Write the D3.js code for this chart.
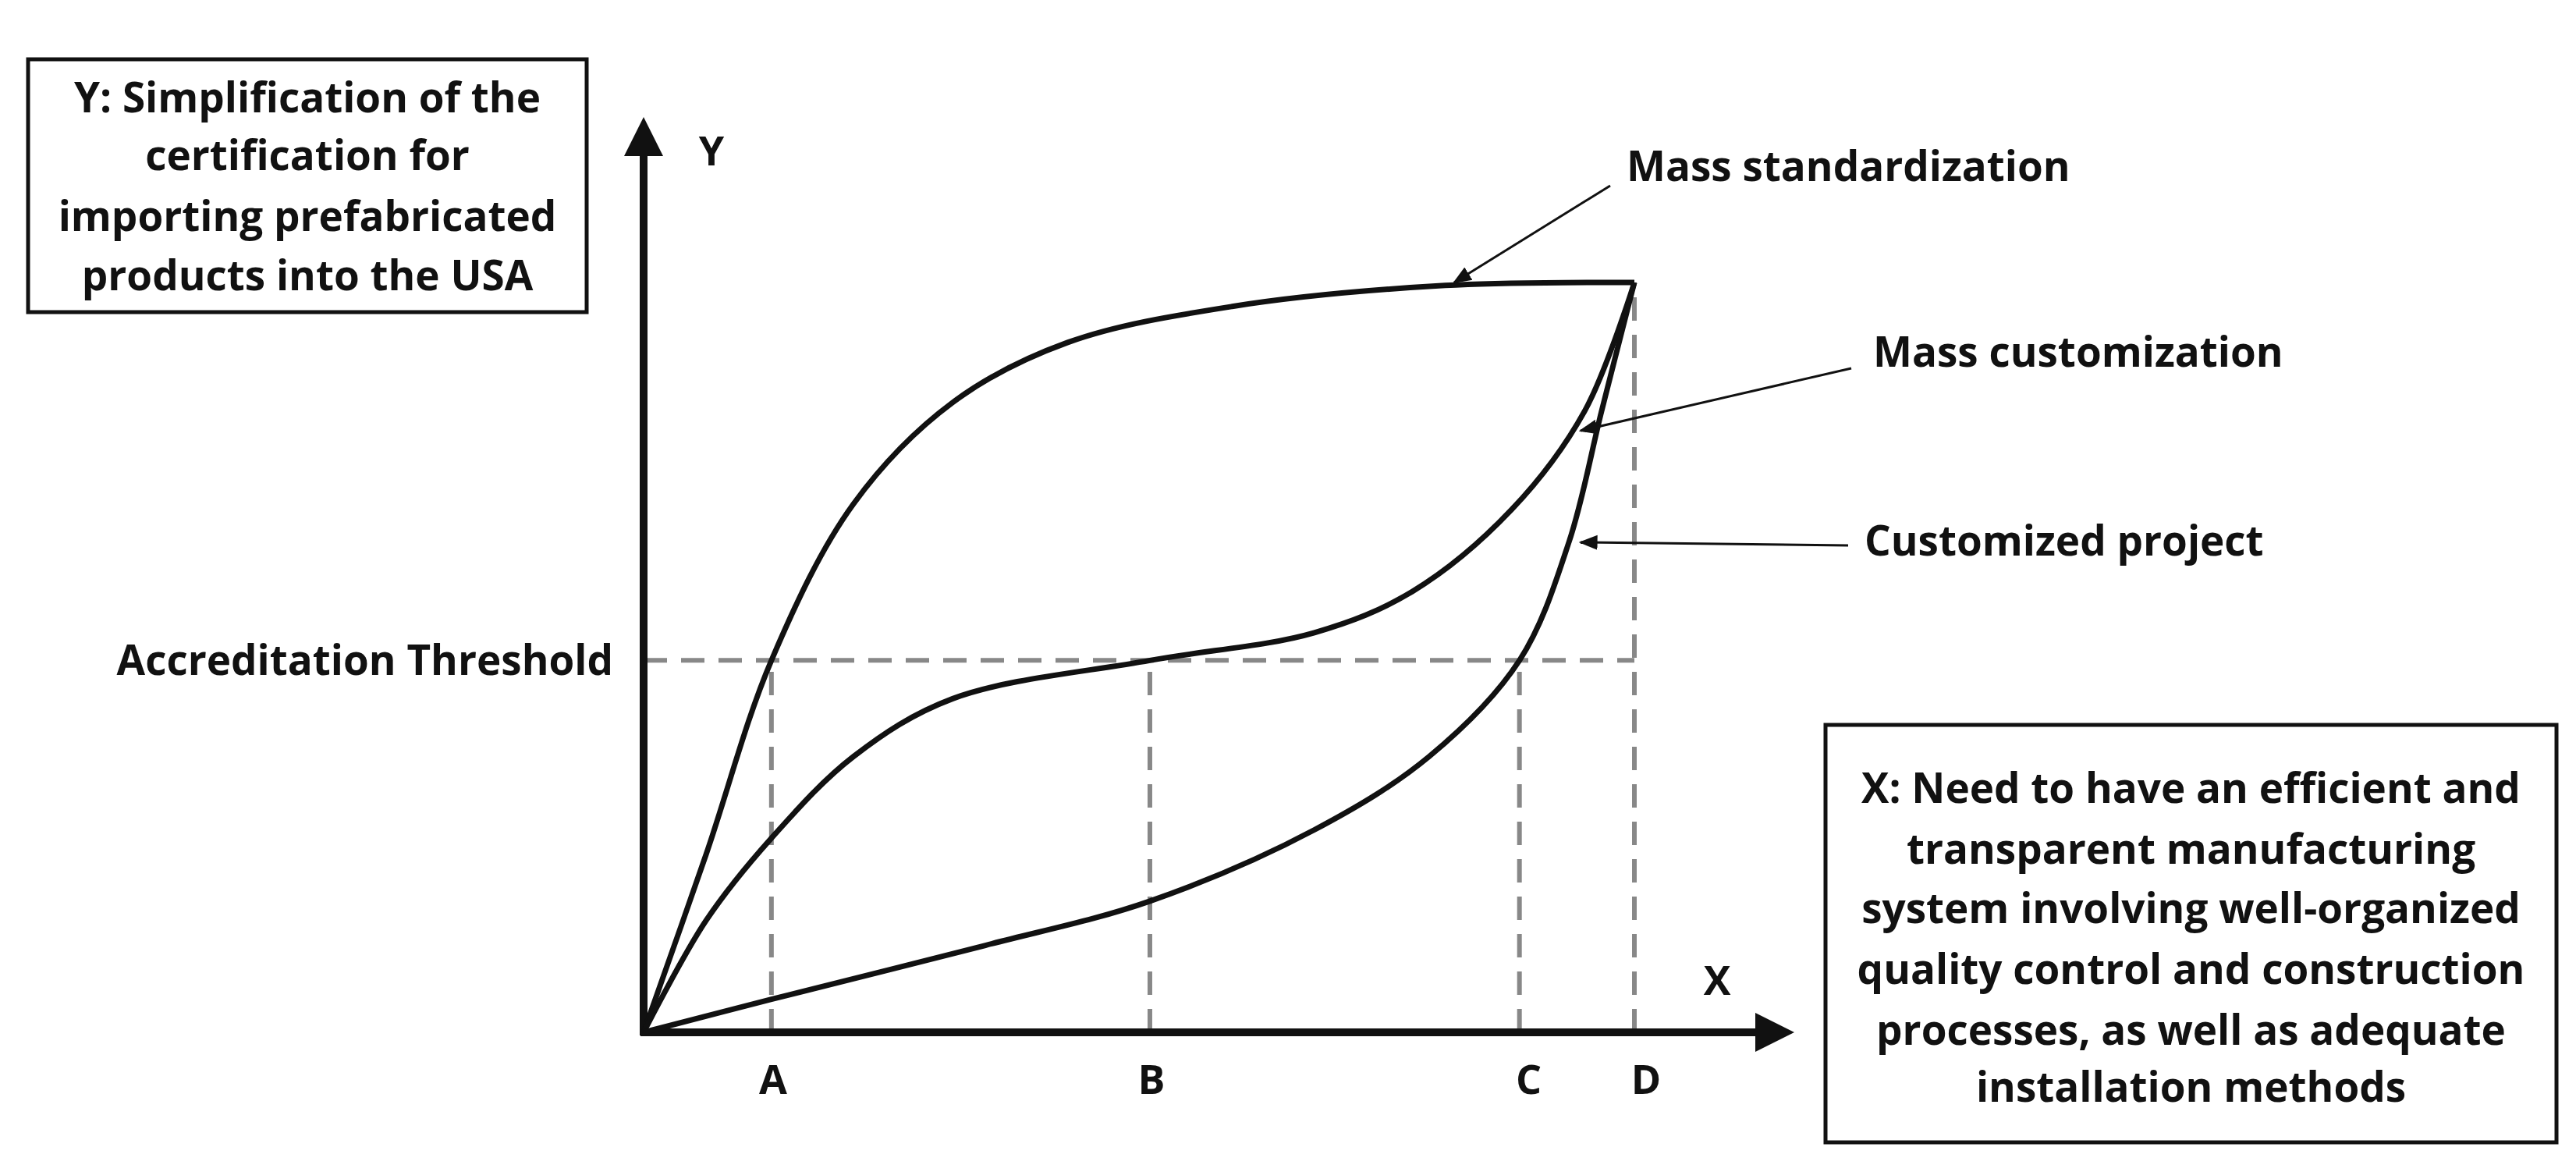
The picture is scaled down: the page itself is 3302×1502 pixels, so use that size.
<!DOCTYPE html>
<html><head><meta charset="utf-8">
<script src="https://cdn.jsdelivr.net/npm/d3@7"></script>
<style>body{margin:0;background:#fff}text{font-family:"Open Sans",sans-serif;font-weight:bold;fill:#111}</style>
</head><body><svg id="chart" width="3302" height="1502"></svg>
<script>
// data space: x 0..100 (D = 100), y 0..100 (end point = 100)
const massStd = [[0,0],[6.3,23.7],[12.9,49.6],[21.2,70.5],[31.2,84],[42.8,92],[59.4,96.8],[80.9,99.6],[100,100]];
const massCust = [[0,0],[6.3,14.9],[12.9,25.9],[21.2,36.8],[31.2,44.5],[51.1,49.6],[67.7,53.3],[77.6,58.8],[87.6,69.7],[95,82.9],[100,100]];
const customized = [[0,0],[12.9,4.4],[34.5,11.6],[51.1,17.5],[67.7,27],[79.3,36.8],[88.4,49.6],[93.4,65.4],[96.7,82.9],[100,100]];
const threshold = 49.6;
const marks = [["A",12.9],["B",51.1],["C",88.4],["D",100]];
const yBoxLines = ["Y: Simplification of the","certification for","importing prefabricated","products into the USA"];
const xBoxLines = ["X: Need to have an efficient and","transparent manufacturing","system involving well-organized","quality control and construction","processes, as well as adequate","installation methods"];

const svg = d3.select("#chart");
const x = d3.scaleLinear().domain([0,100]).range([825,2095]);
const y = d3.scaleLinear().domain([0,100]).range([1323,362]);

svg.append("defs").append("marker").attr("id","ah").attr("viewBox","0 0 10 10")
  .attr("refX",9).attr("refY",5).attr("markerWidth",8).attr("markerHeight",8).attr("orient","auto")
  .append("path").attr("d","M0,1L10,5L0,9z").attr("fill","#111");
svg.append("defs").append("marker").attr("id","big").attr("viewBox","0 0 10 10")
  .attr("refX",2).attr("refY",5).attr("markerWidth",5).attr("markerHeight",5).attr("orient","auto")
  .append("path").attr("d","M0,0L10,5L0,10z").attr("fill","#111");

// dashed guides
const g = svg.append("g").attr("stroke","#888").attr("stroke-width",6).attr("stroke-dasharray","30,18").attr("fill","none");
g.append("line").attr("x1",x(0)).attr("x2",x(100)).attr("y1",y(threshold)).attr("y2",y(threshold));
marks.forEach(([, v]) => g.append("line").attr("x1",x(v)).attr("x2",x(v)).attr("y1",y(0)).attr("y2",v===100?y(100):y(threshold)));

// axes
svg.append("line").attr("x1",x(0)).attr("y1",y(0)+4).attr("x2",x(0)).attr("y2",190).attr("stroke","#111").attr("stroke-width",10).attr("marker-end","url(#big)");
svg.append("line").attr("x1",x(0)-4).attr("y1",y(0)).attr("x2",2260).attr("y2",y(0)).attr("stroke","#111").attr("stroke-width",10).attr("marker-end","url(#big)");

const line = d3.line().x(d=>x(d[0])).y(d=>y(d[1])).curve(d3.curveCatmullRom);
[massStd, massCust, customized].forEach(s => svg.append("path").attr("d",line(s)).attr("fill","none").attr("stroke","#111").attr("stroke-width",7));

// labels
svg.append("text").attr("x",912).attr("y",212).attr("text-anchor","middle").attr("font-size",52).text("Y");
svg.append("text").attr("x",2201).attr("y",1275).attr("text-anchor","middle").attr("font-size",52).text("X");
marks.forEach(([l,v]) => svg.append("text").attr("x",x(v)+(l==="D"?15:l==="C"?12:2)).attr("y",1402).attr("text-anchor","middle").attr("font-size",52).text(l));
svg.append("text").attr("x",786).attr("y",865).attr("text-anchor","end").attr("font-size",53).text("Accreditation Threshold");

// annotations
const ann = [["Mass standardization",2085,232,2064,238,1864,362],["Mass customization",2401,470,2373,472,2026,552],["Customized project",2390,712,2369,699,2026,695]];
ann.forEach(([t,tx,ty,x1,y1,x2,y2]) => {
  svg.append("text").attr("x",tx).attr("y",ty).attr("font-size",53).text(t);
  svg.append("line").attr("x1",x1).attr("y1",y1).attr("x2",x2).attr("y2",y2).attr("stroke","#111").attr("stroke-width",3).attr("marker-end","url(#ah)");
});

// boxes
function box(x0,y0,x1,y1,lines,ys){
  svg.append("rect").attr("x",x0).attr("y",y0).attr("width",x1-x0).attr("height",y1-y0).attr("fill","#fff").attr("stroke","#111").attr("stroke-width",5);
  lines.forEach((t,i)=>svg.append("text").attr("x",(x0+x1)/2).attr("y",ys[i]+18).attr("text-anchor","middle").attr("font-size",53).text(t));
}
box(36,76,752,400,yBoxLines,[126,200,278,354]);
box(2340,929,3277,1464,xBoxLines,[1011,1089,1165,1243,1321,1394]);
</script></body></html>
